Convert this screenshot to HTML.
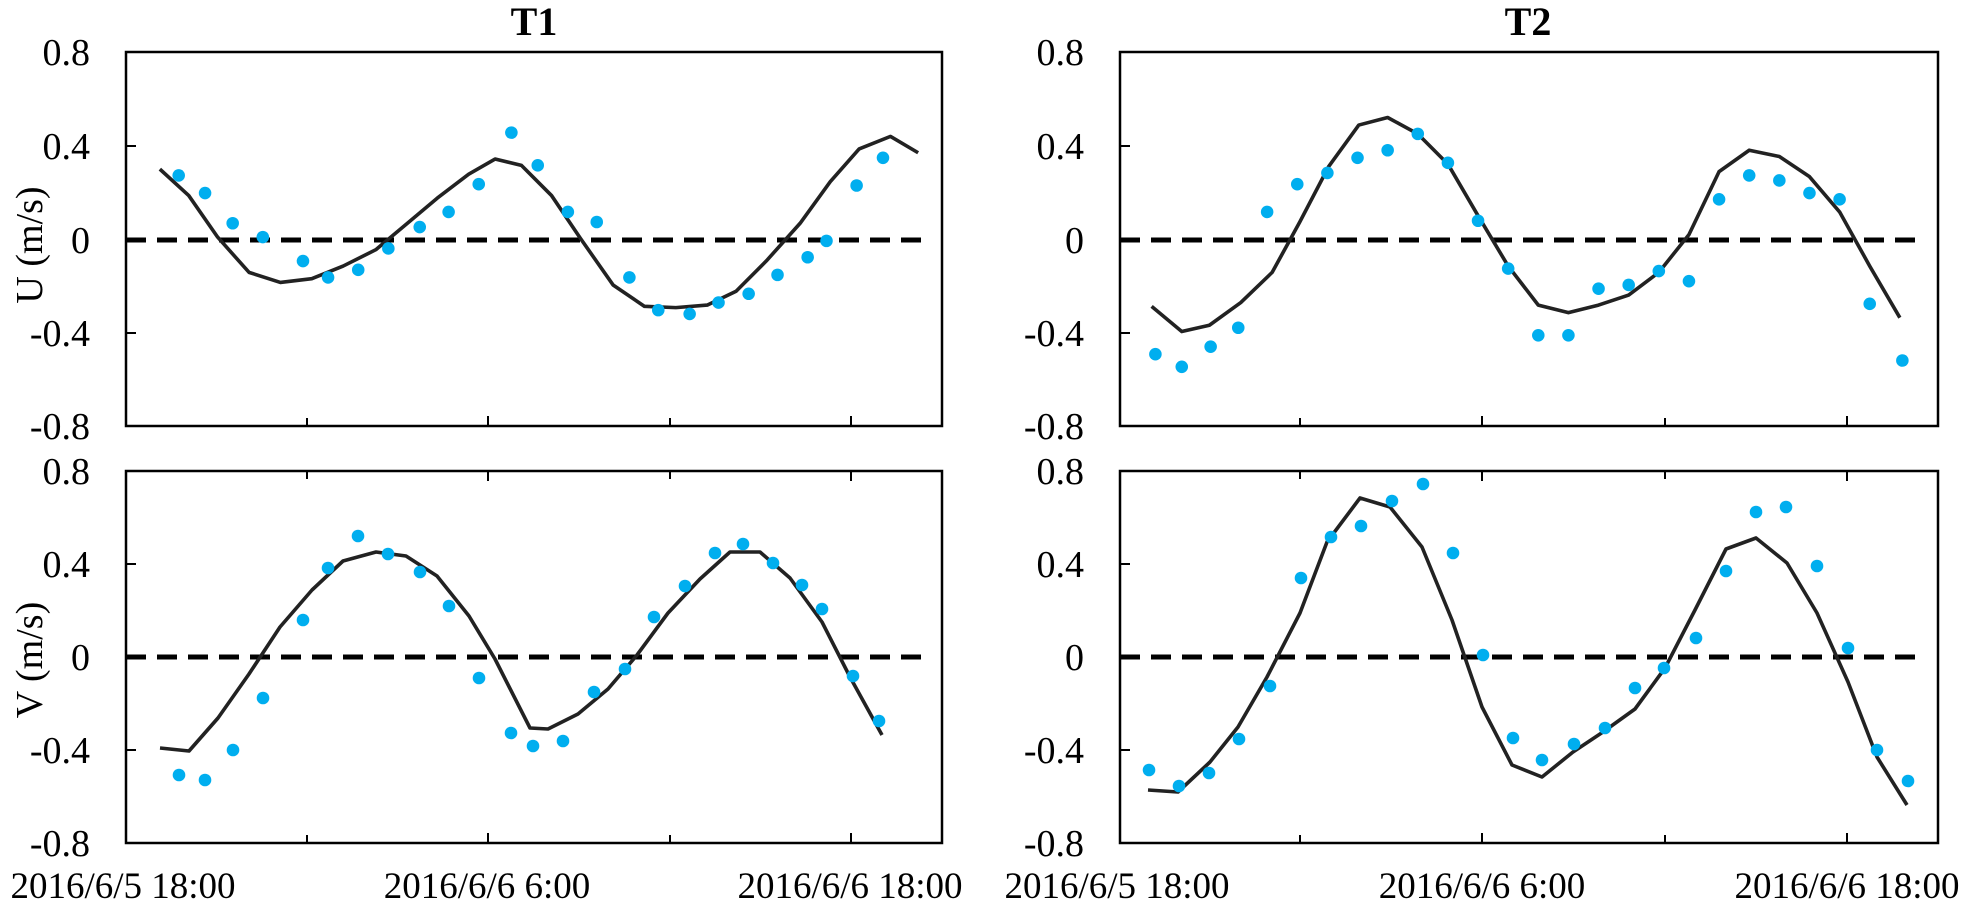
<!DOCTYPE html>
<html><head><meta charset="utf-8"><style>
html,body{margin:0;padding:0;background:#fff;}
svg{display:block;font-family:"Liberation Serif",serif;}
</style></head><body>
<svg width="1969" height="905" viewBox="0 0 1969 905" xmlns="http://www.w3.org/2000/svg">
<g fill="none" stroke="#000" stroke-width="2.5">
<rect x="126" y="52" width="816" height="374"/>
<rect x="126" y="471" width="816" height="372"/>
<rect x="1120" y="52" width="818" height="374"/>
<rect x="1120" y="471" width="818" height="372"/>
</g>
<g stroke="#000" stroke-width="2">
<path d="M126 146h10M126 240h10M126 333h10M126 564h10M126 657h10M126 750h10"/>
<path d="M1120 146h10M1120 240h10M1120 333h10M1120 564h10M1120 657h10M1120 750h10"/>
<path d="M307 426v-8M488 426v-10M670 426v-8M851 426v-10M307 471v8M488 471v10M670 471v8M851 471v10M307 843v-8M488 843v-10M670 843v-8M851 843v-10"/>
<path d="M1300 426v-8M1482 426v-10M1665 426v-8M1847 426v-10M1300 471v8M1482 471v10M1665 471v8M1847 471v10M1300 843v-8M1482 843v-10M1665 843v-8M1847 843v-10"/>
</g>
<g stroke="#000" stroke-width="5" stroke-dasharray="20 11">
<path d="M126 240H928M126 657H928M1120 240H1920M1120 657H1920"/>
</g>
<g font-size="38" text-anchor="end" fill="#000">
<text x="90" y="65">0.8</text><text x="90" y="159">0.4</text><text x="90" y="253">0</text><text x="90" y="346">-0.4</text><text x="90" y="439">-0.8</text>
<text x="90" y="484">0.8</text><text x="90" y="577">0.4</text><text x="90" y="670">0</text><text x="90" y="763">-0.4</text><text x="90" y="856">-0.8</text>
<text x="1084" y="65">0.8</text><text x="1084" y="159">0.4</text><text x="1084" y="253">0</text><text x="1084" y="346">-0.4</text><text x="1084" y="439">-0.8</text>
<text x="1084" y="484">0.8</text><text x="1084" y="577">0.4</text><text x="1084" y="670">0</text><text x="1084" y="763">-0.4</text><text x="1084" y="856">-0.8</text>
</g>
<g font-size="37" text-anchor="middle" fill="#000">
<text x="123" y="898">2016/6/5 18:00</text><text x="487" y="898">2016/6/6 6:00</text><text x="850" y="898">2016/6/6 18:00</text>
<text x="1117" y="898">2016/6/5 18:00</text><text x="1482" y="898">2016/6/6 6:00</text><text x="1847" y="898">2016/6/6 18:00</text>
</g>
<g font-size="38" text-anchor="middle" fill="#000">
<text transform="translate(42,245) rotate(-90)">U (m/s)</text>
<text transform="translate(42,660) rotate(-90)">V (m/s)</text>
<text x="534" y="35" font-weight="bold" font-size="40">T1</text>
<text x="1528" y="35" font-weight="bold" font-size="40">T2</text>
</g>
<g fill="none" stroke="#222" stroke-width="3.6" stroke-linejoin="round">
<polyline points="160,748 189,751 218,718 249,674 280,627 312,590 343,561 376,552 406,556 437,576 469,616 495,659 530,728 548,729 578,714 608,689 637,655 668,613 700,579 730,552 760,552 790,578 822,622 850,677 882,735"/>
<polyline points="1148,790 1178,792 1210,762 1238,727 1267,677 1300,613 1327,542 1360,498 1390,507 1422,547 1452,620 1482,707 1512,765 1542,777 1573,752 1603,732 1635,709 1665,668 1695,610 1726,549 1756,538 1787,563 1817,613 1848,682 1877,757 1907,805"/>
</g>
<g fill="#00AEEF">
<circle cx="179" cy="775" r="6.3"/><circle cx="205" cy="780" r="6.3"/><circle cx="233" cy="750" r="6.3"/><circle cx="263" cy="698" r="6.3"/><circle cx="303" cy="620" r="6.3"/><circle cx="328" cy="568" r="6.3"/><circle cx="358" cy="536" r="6.3"/><circle cx="388" cy="554" r="6.3"/><circle cx="420" cy="572" r="6.3"/><circle cx="449" cy="606" r="6.3"/><circle cx="479" cy="678" r="6.3"/><circle cx="511" cy="733" r="6.3"/>
<circle cx="533" cy="746" r="6.3"/><circle cx="563" cy="741" r="6.3"/><circle cx="594" cy="692" r="6.3"/><circle cx="625" cy="669" r="6.3"/><circle cx="654" cy="617" r="6.3"/><circle cx="685" cy="586" r="6.3"/><circle cx="715" cy="553" r="6.3"/><circle cx="743" cy="544" r="6.3"/><circle cx="773" cy="563" r="6.3"/><circle cx="802" cy="585" r="6.3"/><circle cx="822" cy="609" r="6.3"/><circle cx="853" cy="676" r="6.3"/><circle cx="879" cy="721" r="6.3"/>
<circle cx="1149" cy="770" r="6.3"/><circle cx="1179" cy="786" r="6.3"/><circle cx="1209" cy="773" r="6.3"/><circle cx="1239" cy="739" r="6.3"/><circle cx="1270" cy="686" r="6.3"/><circle cx="1301" cy="578" r="6.3"/><circle cx="1331" cy="537" r="6.3"/><circle cx="1361" cy="526" r="6.3"/><circle cx="1392" cy="501" r="6.3"/><circle cx="1423" cy="484" r="6.3"/><circle cx="1453" cy="553" r="6.3"/><circle cx="1483" cy="655" r="6.3"/><circle cx="1513" cy="738" r="6.3"/><circle cx="1542" cy="760" r="6.3"/><circle cx="1574" cy="744" r="6.3"/><circle cx="1605" cy="728" r="6.3"/><circle cx="1635" cy="688" r="6.3"/><circle cx="1664" cy="668" r="6.3"/><circle cx="1696" cy="638" r="6.3"/><circle cx="1726" cy="571" r="6.3"/><circle cx="1756" cy="512" r="6.3"/><circle cx="1786" cy="507" r="6.3"/><circle cx="1817" cy="566" r="6.3"/><circle cx="1848" cy="648" r="6.3"/><circle cx="1877" cy="750" r="6.3"/><circle cx="1908" cy="781" r="6.3"/>
</g>
<g transform="matrix(1.2554 0 0 1.259 4.2 -2.1)">
<g fill="none" stroke="#222" stroke-width="3.6" stroke-linejoin="round">
<polyline vector-effect="non-scaling-stroke" points="124,136 147,157 170,190 195,218 220,226 245,223 270,213 296,200 320,180 345,159 370,140 391,128 412,133 436,157 459,191 485,228 510,245 535,246 560,244 583,233 607,209 634,179 658,146 681,120 706,110 728,123"/>
<polyline vector-effect="non-scaling-stroke" points="914,245 938,265 960,260 985,242 1010,218 1032,178 1055,134 1079,101 1102,95 1126,108 1150,132 1174,173 1198,213 1222,244 1246,250 1270,244 1294,236 1318,218 1342,188 1366,138 1390,121 1414,126 1438,142 1462,170 1486,213 1510,254"/>
</g>
<g fill="#00AEEF">
<circle cx="139" cy="141" r="5"/><circle cx="160" cy="155" r="5"/><circle cx="182" cy="179" r="5"/><circle cx="206" cy="190" r="5"/><circle cx="238" cy="209" r="5"/><circle cx="258" cy="222" r="5"/><circle cx="282" cy="216" r="5"/><circle cx="306" cy="199" r="5"/><circle cx="331" cy="182" r="5"/><circle cx="354" cy="170" r="5"/><circle cx="378" cy="148" r="5"/><circle cx="404" cy="107" r="5"/><circle cx="425" cy="133" r="5"/><circle cx="449" cy="170" r="5"/><circle cx="472" cy="178" r="5"/><circle cx="498" cy="222" r="5"/><circle cx="521" cy="248" r="5"/><circle cx="546" cy="251" r="5"/><circle cx="569" cy="242" r="5"/><circle cx="593" cy="235" r="5"/><circle cx="616" cy="220" r="5"/><circle cx="640" cy="206" r="5"/><circle cx="655" cy="193" r="5"/><circle cx="679" cy="149" r="5"/><circle cx="700" cy="127" r="5"/>
<circle cx="917" cy="283" r="5"/><circle cx="938" cy="293" r="5"/><circle cx="961" cy="277" r="5"/><circle cx="983" cy="262" r="5"/><circle cx="1006" cy="170" r="5"/><circle cx="1030" cy="148" r="5"/><circle cx="1054" cy="139" r="5"/><circle cx="1078" cy="127" r="5"/><circle cx="1102" cy="121" r="5"/><circle cx="1126" cy="108" r="5"/><circle cx="1150" cy="131" r="5"/><circle cx="1174" cy="177" r="5"/><circle cx="1198" cy="215" r="5"/><circle cx="1222" cy="268" r="5"/><circle cx="1246" cy="268" r="5"/><circle cx="1270" cy="231" r="5"/><circle cx="1294" cy="228" r="5"/><circle cx="1318" cy="217" r="5"/><circle cx="1342" cy="225" r="5"/><circle cx="1366" cy="160" r="5"/><circle cx="1390" cy="141" r="5"/><circle cx="1414" cy="145" r="5"/><circle cx="1438" cy="155" r="5"/><circle cx="1462" cy="160" r="5"/><circle cx="1486" cy="243" r="5"/><circle cx="1512" cy="288" r="5"/>
</g>
</g>
</svg>
</body></html>
